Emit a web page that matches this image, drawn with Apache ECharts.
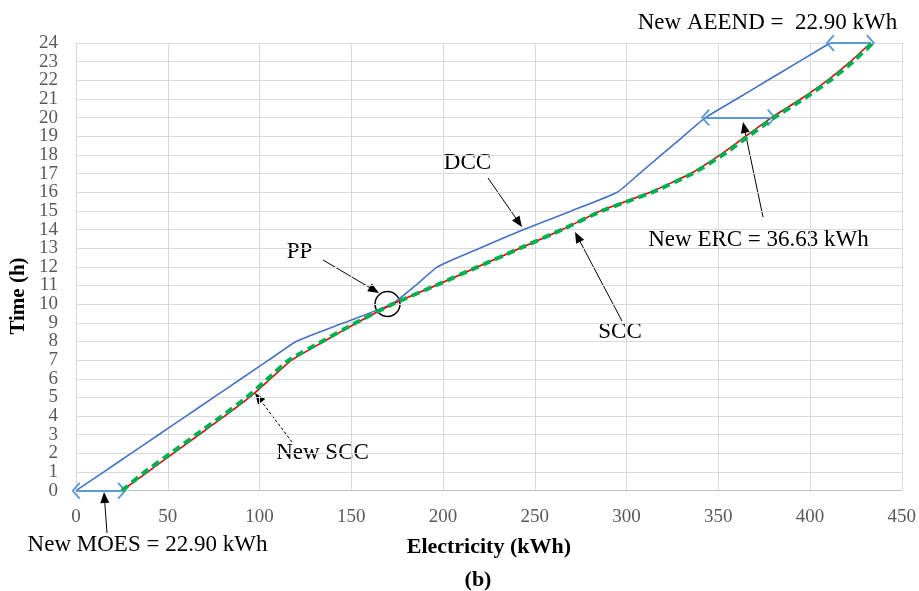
<!DOCTYPE html>
<html>
<head>
<meta charset="utf-8">
<script src="https://cdn.jsdelivr.net/npm/echarts@6/dist/echarts.min.js"></script>
<style>
html,body{margin:0;padding:0;background:#fff;}
#chart{width:919px;height:591px;}
</style>
</head>
<body>
<div id="chart"></div>
<script>
// ---- data ----
const hours   = [0,1,2,3,4,5,6,7,8,9,10,11,12,13,14,15,16,17,18,19,20,21,22,23,24];
const dccX    = [0,15,30,45,60,75,90,105,120,146,172,185,197,220,244,270,295,307,319,331,343,360,377,394,411];
const sccX    = [25,39,53,67,81,94.5,106,117.5,135,153,172.5,196,219,242,265,286,313,335,351,365,379,395,409.5,422,433];
const newSccX = [25,37.5,51.5,65.5,79.5,93,104.5,116,134,152.5,172.5,196,219,242,265,286.5,314,336,352.5,366.5,380.5,396.5,411,423.5,434];
const xTicks  = [0,50,100,150,200,250,300,350,400,450];
const yEnds   = [0,24];
// double-arrow annotations: [hour index]
const gapHours = [0, 20, 24];

const pairs = (xs) => xs.map((v,i)=>[v, hours[i]]);

const chart = echarts.init(document.getElementById('chart'), null, {renderer:'canvas'});
const serif = "'Liberation Serif','Times New Roman',serif";

const chevron = 'path://M0,0 L10,8 L8.6,9.6 L0,2.6 L-8.6,9.6 L-10,8 Z';
const gapLines = gapHours.map(h => [
  {coord:[dccX[h], hours[h]]},
  {coord:[sccX[h], hours[h]]}
]);

function arrow(x1,y1,x2,y2,dashed){
  const a = Math.atan2(y2-y1, x2-x1), c=Math.cos(a), s=Math.sin(a);
  const L=11, W=4.5;
  const bx=x2-L*c, by=y2-L*s;
  return [
    {type:'line', shape:{x1:x1,y1:y1,x2:bx+c*2,y2:by+s*2},
     style:{stroke:'#000', lineWidth:1, lineDash: dashed?[3,2]:null}},
    {type:'polygon', shape:{points:[[x2,y2],[bx+W*s,by-W*c],[bx-W*s,by+W*c]]},
     style:{fill:'#000'}}
  ];
}
function txt(x,y,t,size,bold){
  return {type:'text', x:x, y:y, style:{text:t, font:(bold?'bold ':'')+size+'px '+serif,
    fill:'#000', textAlign:'center', textVerticalAlign:'middle'}};
}

const graphics = [].concat(
  arrow(488,178,522,227,false),
  arrow(323,260,379,293,false),
  arrow(622,321,575,232,false),
  arrow(763,217,743,122,false),
  arrow(292,442,255,393,true),
  arrow(107,533,104,492,false),
  [
    {type:'circle', shape:{cx:387.5, cy:304, r:12.5}, style:{fill:null, stroke:'#000', lineWidth:1.5}},
    txt(767.5,23,'New AEEND =  22.90 kWh',23,false),
    txt(758.5,240,'New ERC = 36.63 kWh',23,false),
    txt(620,332,'SCC',23,false),
    txt(467.5,163,'DCC',23,false),
    txt(299.5,252,'PP',23,false),
    txt(322.5,453,'New SCC',23,false),
    txt(147.5,545,'New MOES = 22.90 kWh',23,false),
    txt(478,580,'(b)',22,true),
    {type:'text', x:19, y:296, rotation:Math.PI/2, style:{text:'Time (h)', font:'bold 21px '+serif,
      fill:'#000', textAlign:'center', textVerticalAlign:'middle'}}
  ]
);

const yLabelStyle = {fontFamily:serif, fontSize:19, color:'#595959', margin:18, hideOverlap:false};

chart.setOption({
  animation:false,
  backgroundColor:'#fff',
  grid:{left:76, right:17, top:43, bottom:100.3, containLabel:false},
  xAxis:{
    type:'value', min:0, max:450, interval:50,
    name:'Electricity (kWh)', nameLocation:'middle', nameGap:46,
    nameTextStyle:{fontFamily:serif, fontWeight:'bold', fontSize:22, color:'#000'},
    axisLine:{show:true, onZero:false, lineStyle:{color:'#bfbfbf', width:1}},
    axisTick:{show:false},
    axisLabel:{fontFamily:serif, fontSize:19, color:'#595959', margin:17,
      showMinLabel:true, showMaxLabel:true, hideOverlap:false},
    splitLine:{show:true, lineStyle:{color:'#d9d9d9', width:1}}
  },
  yAxis:[
    {
      type:'value', min:0, max:24, interval:1, position:'left',
      axisLine:{show:true, lineStyle:{color:'#d9d9d9', width:1}},
      axisTick:{show:false},
      axisLabel:Object.assign({formatter: v => yEnds.includes(v) ? '' : String(v),
        showMinLabel:true, showMaxLabel:true}, yLabelStyle),
      splitLine:{show:true, lineStyle:{color:'#d9d9d9', width:1}}
    },
    {
      type:'value', min:0, max:24, interval:1, position:'left',
      axisLine:{show:false}, axisTick:{show:false}, splitLine:{show:false},
      axisLabel:Object.assign({formatter: v => yEnds.includes(v) ? String(v) : '',
        showMinLabel:true, showMaxLabel:true}, yLabelStyle)
    }
  ],
  series:[
    {name:'DCC', type:'line', data:pairs(dccX), showSymbol:false, smooth:0.15,
     lineStyle:{color:'#4472c4', width:1.6}, z:3,
     markLine:{silent:true, symbol:[chevron, chevron], symbolSize:[17,9],
       label:{show:false}, lineStyle:{color:'#5b9bd5', width:2, type:'solid'},
       data:gapLines}},
    {name:'SCC', type:'line', data:pairs(sccX), showSymbol:false, smooth:0.15,
     lineStyle:{color:'#e00000', width:1.6}, z:4},
    {name:'New SCC', type:'line', data:pairs(newSccX), showSymbol:false, smooth:0.15,
     lineStyle:{color:'#00b050', width:4, type:[8,5]}, z:5}
  ],
  graphic:graphics
});
</script>
</body>
</html>
